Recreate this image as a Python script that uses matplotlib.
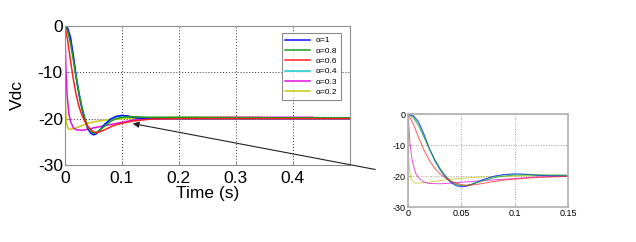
import matplotlib
matplotlib.use("Agg")
import matplotlib.pyplot as plt
from matplotlib.patches import FancyArrowPatch

plt.rcParams['font.family'] = ['Liberation Sans', 'DejaVu Sans']
plt.rcParams['axes.unicode_minus'] = False

labels = ['α=1', 'α=0.8', 'α=0.6', 'α=0.4', 'α=0.3', 'α=0.2']
colors = ['#1010ff', '#1a9e1a', '#ff2020', '#10c8c8', '#e010e0', '#c8c810']

t_a1 = [0, 0.005, 0.01, 0.015, 0.02, 0.025, 0.03, 0.035, 0.04, 0.045, 0.05, 0.055, 0.06,
        0.07, 0.08, 0.09, 0.1, 0.11, 0.12, 0.13, 0.15, 0.2, 0.3, 0.5]
v_a1 = [0, -0.5, -2.5, -6.5, -11, -14.8, -17.8, -20.2, -22.0, -23.1, -23.5, -23.3, -22.7,
        -21.2, -20.1, -19.5, -19.3, -19.4, -19.7, -19.9, -20, -20, -20, -20]

t_a08 = [0, 0.005, 0.01, 0.015, 0.02, 0.025, 0.03, 0.035, 0.04, 0.045, 0.05, 0.055, 0.06,
         0.07, 0.08, 0.09, 0.1, 0.12, 0.15, 0.2, 0.3, 0.5]
v_a08 = [0, -1.2, -3.8, -7.5, -11.2, -14.6, -17.5, -19.8, -21.6, -22.7, -23.1, -23.0, -22.6,
         -21.6, -20.6, -20.0, -19.7, -19.6, -19.7, -19.7, -19.8, -19.8]

t_a06 = [0, 0.005, 0.01, 0.015, 0.02, 0.025, 0.03, 0.035, 0.04, 0.045, 0.05, 0.055, 0.06,
         0.07, 0.08, 0.09, 0.1, 0.12, 0.15, 0.2, 0.3, 0.5]
v_a06 = [0, -3.2, -7.6, -11.6, -15.0, -17.5, -19.3, -20.6, -21.6, -22.3, -22.8, -23.0, -22.9,
         -22.4, -21.8, -21.3, -21.0, -20.5, -20.1, -20.0, -20.0, -20.0]

t_a04 = [0, 0.005, 0.01, 0.015, 0.02, 0.025, 0.03, 0.035, 0.04, 0.045, 0.05, 0.055, 0.06,
         0.07, 0.08, 0.09, 0.1, 0.11, 0.12, 0.13, 0.15, 0.2, 0.3, 0.5]
v_a04 = [0, -0.8, -3.0, -7.0, -11.3, -15.0, -18.0, -20.3, -22.0, -23.0, -23.3, -23.1, -22.6,
         -21.2, -20.2, -19.6, -19.4, -19.5, -19.7, -19.9, -20, -20, -20, -20]

t_a03 = [0, 0.001, 0.002, 0.004, 0.007, 0.01, 0.015, 0.02, 0.03, 0.04, 0.05, 0.07, 0.1,
         0.12, 0.15, 0.2, 0.3, 0.435]
v_a03 = [0, -5, -10, -15, -19, -20.6, -22.0, -22.4, -22.5, -22.3, -22.0, -21.5, -20.8,
         -20.3, -20.0, -19.8, -19.7, -19.7]

t_a02 = [0, 0.0005, 0.001, 0.002, 0.003, 0.006, 0.01, 0.02, 0.03, 0.04, 0.05, 0.07, 0.1,
         0.15, 0.2, 0.345]
v_a02 = [0, -8, -16, -19.5, -21, -22.2, -22.3, -22.0, -21.5, -21.0, -20.7, -20.3, -20.0,
         -19.8, -19.7, -19.7]

series = [(t_a1, v_a1), (t_a08, v_a08), (t_a06, v_a06), (t_a04, v_a04), (t_a03, v_a03), (t_a02, v_a02)]
draw_order = [5, 4, 3, 0, 1, 2]

main_xticks = [0, 0.1, 0.2, 0.3, 0.4]
main_xlabels = ['0', '0.1', '0.2', '0.3', '0.4']
yticks = [-30, -20, -10, 0]
inset_xticks = [0, 0.05, 0.1, 0.15]
inset_xlabels = ['0', '0.05', '0.1', '0.15']

fig = plt.figure(figsize=(6.36, 2.42), dpi=100)

ax = fig.add_axes([0.102, 0.318, 0.448, 0.575])
handles = [None] * 6
for i in draw_order:
    t, v = series[i]
    ln, = ax.plot(t, v, color=colors[i], lw=1.1, label=labels[i])
    handles[i] = ln
ax.set_xlim(0, 0.5)
ax.set_ylim(-30, 0)
ax.set_xticks(main_xticks)
ax.set_xticklabels(main_xlabels)
ax.set_yticks(yticks)
ax.grid(True, color='#333333', linestyle=(0, (1, 2)), lw=0.7)
for s in ax.spines.values():
    s.set_color('#909090')
ax.tick_params(direction='in', length=3, color='#909090', labelsize=12.5)
ax.tick_params(axis='y', pad=1.5)
ax.tick_params(axis='x', pad=4)
ax.set_xlabel('Time (s)', fontsize=12.5, labelpad=0)
ax.set_ylabel('Vdc', fontsize=12.5)
ax.yaxis.set_label_coords(-0.14, 0.5)
leg = ax.legend(handles=handles, loc='upper right', bbox_to_anchor=(0.968, 0.95),
                fontsize=6, frameon=True, fancybox=False, edgecolor='#707070',
                handlelength=3.0, labelspacing=0.3, borderpad=0.45, handletextpad=0.6,
                borderaxespad=0)
leg.get_frame().set_linewidth(0.8)

axi = fig.add_axes([0.6415, 0.1446, 0.2516, 0.384])
for i in draw_order:
    t, v = series[i]
    axi.plot(t, v, color=colors[i], lw=0.7, alpha=0.75)
axi.set_xlim(0, 0.15)
axi.set_ylim(-30, 0)
axi.set_xticks(inset_xticks)
axi.set_xticklabels(inset_xlabels)
axi.set_yticks(yticks)
axi.grid(True, color='#888888', linestyle=(0, (1, 2)), lw=0.6)
for s in axi.spines.values():
    s.set_color('#b0b0b0')
    s.set_linewidth(1.2)
axi.tick_params(direction='in', length=2, color='#b0b0b0', labelsize=6.5, pad=1.5)

arrow = FancyArrowPatch((378 / 636, 1 - 170 / 242), (130 / 636, 1 - 123 / 242),
                        transform=fig.transFigure, arrowstyle='-|>', mutation_scale=9,
                        color='#222222', lw=0.8)
fig.add_artist(arrow)

fig.savefig('out.png', dpi=100)
